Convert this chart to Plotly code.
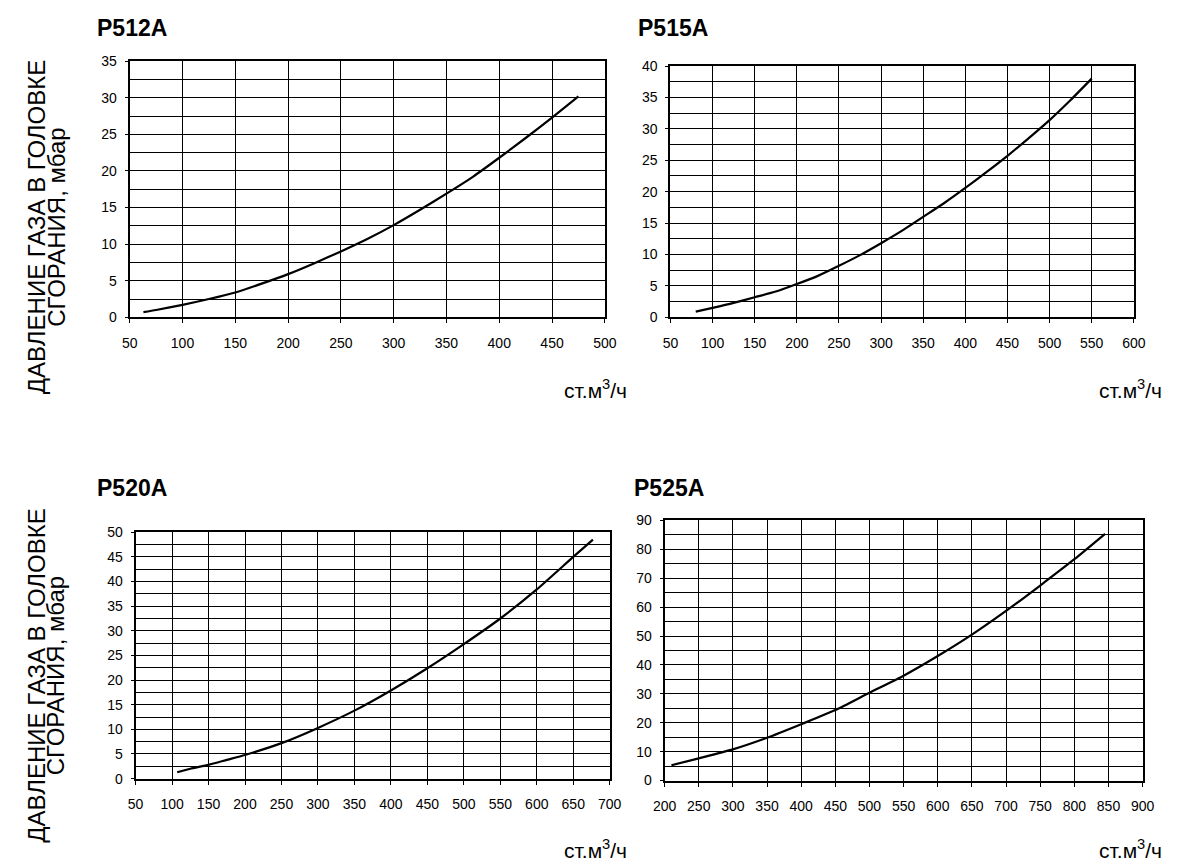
import plotly.graph_objects as go

W, H = 1177, 865
# the page puts the figure 8px in from the top-left corner, so layout
# positions (measured on the reference in page pixels) are shifted back by it
OFF = 8

# P512A
p512_x = [63, 75, 100, 125, 150, 175, 200, 225, 250, 275, 300, 325, 350, 375, 400, 425, 450, 475]
p512_y = [0.7, 1.0, 1.7, 2.5, 3.4, 4.6, 5.9, 7.4, 9.0, 10.7, 12.6, 14.7, 16.9, 19.2, 21.8, 24.5, 27.3, 30.2]

# P515A
p515_x = [80, 100, 125, 150, 175, 200, 225, 250, 275, 300, 325, 350, 375, 400, 425, 450, 475, 500, 525, 550]
p515_y = [0.9, 1.5, 2.3, 3.2, 4.1, 5.3, 6.6, 8.2, 9.9, 11.8, 13.8, 16.0, 18.2, 20.6, 23.1, 25.7, 28.5, 31.4, 34.6, 38.0]

# P520A
p520_x = [107, 125, 150, 175, 200, 250, 300, 350, 400, 450, 500, 550, 600, 650, 677]
p520_y = [1.3, 2.0, 2.8, 3.8, 4.8, 7.2, 10.3, 13.8, 17.9, 22.4, 27.3, 32.5, 38.4, 45.0, 48.5]

# P525A
p525_x = [210, 250, 300, 350, 400, 450, 500, 550, 600, 650, 700, 750, 800, 845]
p525_y = [5.3, 7.7, 10.8, 14.8, 19.5, 24.4, 30.4, 36.3, 43.1, 50.5, 58.7, 67.5, 76.6, 85.4]

titles = ["P512A", "P515A", "P520A", "P525A"]
y_title = ["ДАВЛЕНИЕ ГАЗА В ГОЛОВКЕ", "СГОРАНИЯ, мбар"]
x_title = "ст.м<sup>3</sup>/ч"


def px(x):
    return (x - OFF) / W


def py(y):
    return 1 - (y - OFF) / H


# (x_range, x_dtick, y_range, y_dtick, y_minor, box l, r, top, bottom, title x/y, unit label right/y)
panels = [
    ([50, 500], 50, [0, 35], 5, 2.5, (120, 605, 54, 315), (85, 20), (630, 388)),
    ([50, 600], 50, [0, 40], 5, 2.5, (672, 1145, 59, 315), (637, 20), (1176, 388)),
    ([50, 700], 50, [0, 50], 5, 2.5, (126, 610, 534, 785), (85, 489), (630, 857)),
    ([200, 900], 50, [0, 90], 10, 5, (666, 1154, 522, 787), (633, 489), (1176, 857)),
]
series = [(p512_x, p512_y), (p515_x, p515_y), (p520_x, p520_y), (p525_x, p525_y)]

FONT = "Arial, Liberation Sans, sans-serif"

fig = go.Figure()
layout = {}
annotations = []

for i, (panel, (xs, ys)) in enumerate(zip(panels, series)):
    xr, xd, yr, yd, ym, (l, r, t, b), (tx, ty), (ux, uy) = panel
    n = "" if i == 0 else str(i + 1)
    fig.add_trace(go.Scatter(
        x=xs, y=ys, mode="lines", line=dict(color="black", width=2.2, shape="spline", smoothing=0.6),
        xaxis="x" + n, yaxis="y" + n, showlegend=False, hoverinfo="skip",
    ))
    layout["xaxis" + n] = dict(
        domain=[px(l), min(px(r), 1)], range=xr, dtick=xd, tick0=xr[0], anchor="y" + n,
        showgrid=True, gridcolor="black", gridwidth=1, zeroline=False,
        showline=True, linecolor="black", linewidth=2, mirror=True,
        ticks="outside", ticklen=4, tickcolor="black", ticklabelstandoff=8,
        tickfont=dict(family=FONT, size=14, color="black"),
    )
    layout["yaxis" + n] = dict(
        domain=[py(b), py(t)], range=yr, dtick=yd, tick0=0, anchor="x" + n,
        showgrid=True, gridcolor="black", gridwidth=1, zeroline=False,
        showline=True, linecolor="black", linewidth=2, mirror=True,
        ticks="outside", ticklen=3, tickcolor="black", ticklabelstandoff=5,
        minor=dict(dtick=ym, showgrid=True, gridcolor="black", gridwidth=1, ticks=""),
        tickfont=dict(family=FONT, size=14, color="black"),
    )
    # panel title
    annotations.append(dict(
        text="<b>" + titles[i] + "</b>", x=px(tx), y=py(ty),
        xref="paper", yref="paper", xanchor="left", yanchor="middle", showarrow=False,
        font=dict(family=FONT, size=23, color="black"),
    ))
    # x axis unit label
    annotations.append(dict(
        text=x_title, x=min(px(ux), 1), y=py(uy),
        xref="paper", yref="paper", xanchor="right", yanchor="middle", showarrow=False,
        font=dict(family=FONT, size=21, color="black"),
    ))

# y axis titles, one per row, two lines each
for cy in (223, 680):
    for k, cx in enumerate((24.5, 44.5)):
        annotations.append(dict(
            text=y_title[k], x=px(cx), y=py(cy), textangle=-90,
            xref="paper", yref="paper", xanchor="center", yanchor="middle", showarrow=False,
            font=dict(family=FONT, size=24, color="black"),
        ))

fig.update_layout(
    width=W, height=H, margin=dict(l=0, r=0, t=0, b=0),
    paper_bgcolor="white", plot_bgcolor="white",
    annotations=annotations, **layout,
)

fig.write_html("out.html")
